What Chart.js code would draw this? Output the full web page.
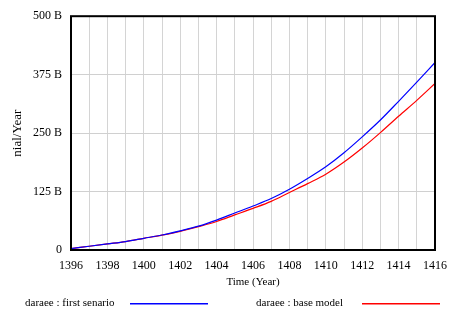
<!DOCTYPE html>
<html>
<head>
<meta charset="utf-8">
<script src="https://cdn.jsdelivr.net/npm/chart.js@4.4.0/dist/chart.umd.min.js"></script>
<style>
html,body{margin:0;padding:0;background:#fff;}
#wrap{width:456px;height:313px;position:relative;}
</style>
</head>
<body>
<div id="wrap"><canvas id="c" width="456" height="313"></canvas></div>
<script>
const years = [1396,1397,1398,1399,1400,1401,1402,1403,1404,1405,1406,1407,1408,1409,1410,1411,1412,1413,1414,1415,1416];
const firstScenario = [3,8,13,18,25,32,41,51,64,79,94,110,130,153,178,208,242,278,318,359,401];
const baseModel = [3,8,13,18,25,32,40,50,61,75,89,104,123,142,162,188,218,251,286,320,356];
const yTicks = [0,125,250,375,500];
const seriesNames = ['daraee : first senario','daraee : base model'];
const seriesColors = ['#0000ff','#ff0000'];
const FONT = '"Liberation Serif", "Times New Roman", serif';

const framePlugin = {
  id:'frame',
  afterDraw(chart){
    const a = chart.chartArea, ctx = chart.ctx;
    ctx.save();
    ctx.strokeStyle = '#000';
    ctx.lineWidth = 2;
    ctx.strokeRect(a.left, a.top, a.right - a.left, a.bottom - a.top);
    ctx.restore();
    // legend
    const ly = 303;
    const items = [{tx:25, l0:130, l1:208},{tx:256, l0:362, l1:440}];
    items.forEach((it,i)=>{
      ctx.save();
      ctx.font = '11px ' + FONT;
      ctx.fillStyle = '#000';
      ctx.textBaseline = 'middle';
      ctx.textAlign = 'left';
      ctx.fillText(seriesNames[i], it.tx, ly);
      ctx.fillStyle = seriesColors[i];
      ctx.fillRect(it.l0, ly, it.l1 - it.l0, 1.5);
      ctx.restore();
    });
  }
};

new Chart(document.getElementById('c'), {
  type:'line',
  data:{
    datasets:[
      {label:seriesNames[0], data:years.map((y,i)=>({x:y,y:firstScenario[i]})), borderColor:seriesColors[0], borderWidth:1.2, pointRadius:0, cubicInterpolationMode:'monotone', fill:false},
      {label:seriesNames[1], data:years.map((y,i)=>({x:y,y:baseModel[i]})), borderColor:seriesColors[1], borderWidth:1.2, pointRadius:0, cubicInterpolationMode:'monotone', fill:false}
    ]
  },
  options:{
    responsive:false,
    animation:false,
    devicePixelRatio:1,
    layout:{padding:{left:0,right:16,top:6,bottom:0}},
    plugins:{legend:{display:false}, tooltip:{enabled:false}},
    scales:{
      x:{
        type:'linear', min:1396, max:1416,
        grid:{color:'#d4d4d4', drawTicks:false, lineWidth:1},
        border:{display:false},
        ticks:{stepSize:1, autoSkip:false, maxRotation:0, padding:9, color:'#000',
          font:{family:FONT,size:12},
          callback:(v)=> (v % 2 === 0 ? String(v) : '')},
        title:{display:true, text:'Time (Year)', color:'#000', font:{family:FONT,size:11}, padding:{top:0,bottom:24}},
        afterFit(s){ s.height = 63; }
      },
      y:{
        min:0, max:500,
        grid:{color:'#d0d0d0', drawTicks:false, lineWidth:1},
        border:{display:false},
        afterBuildTicks(s){ s.ticks = yTicks.map(v=>({value:v})); },
        ticks:{padding:9, color:'#000', font:{family:FONT,size:12},
          callback:(v)=> (v === 0 ? '0' : v + ' B')},
        title:{display:true, text:'nial/Year', color:'#000', font:{family:FONT,size:13}, padding:{top:10,bottom:0}},
        afterFit(s){ s.width = 71; }
      }
    }
  },
  plugins:[framePlugin]
});
</script>
</body>
</html>
